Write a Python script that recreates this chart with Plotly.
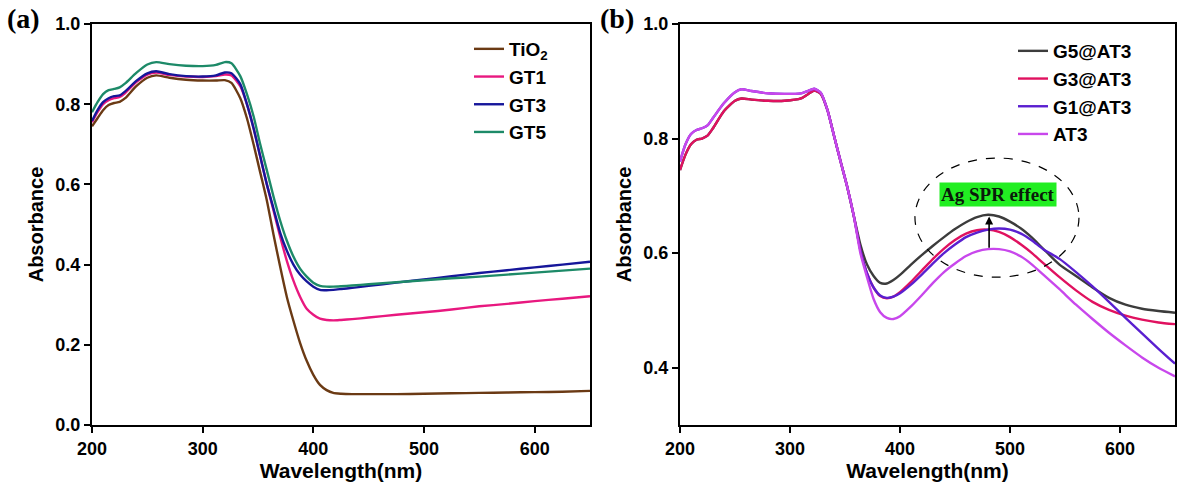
import plotly.graph_objects as go

# ---------------- Panel (a) data ----------------
wl_a = [200, 205, 210, 215, 220, 225, 230, 240, 250, 258, 270, 285, 300, 312, 320, 326,
        334, 340, 346, 352, 358, 364, 370, 376, 382, 388, 394, 400, 406, 412, 418, 425,
        435, 450, 475, 500, 525, 550, 575, 600, 625, 650]
tio2 = [0.745, 0.765, 0.785, 0.798, 0.803, 0.806, 0.815, 0.845, 0.866, 0.872, 0.866, 0.861, 0.859, 0.859, 0.860, 0.853,
        0.815, 0.765, 0.700, 0.630, 0.560, 0.475, 0.395, 0.320, 0.260, 0.205, 0.160, 0.125, 0.100, 0.087, 0.080, 0.078,
        0.077, 0.077, 0.077, 0.078, 0.079, 0.080, 0.081, 0.082, 0.083, 0.085]
gt1 = [0.755, 0.780, 0.800, 0.810, 0.815, 0.818, 0.828, 0.855, 0.874, 0.879, 0.873, 0.869, 0.868, 0.870, 0.874, 0.872,
       0.845, 0.800, 0.740, 0.670, 0.600, 0.535, 0.470, 0.410, 0.360, 0.320, 0.290, 0.275, 0.265, 0.262, 0.261, 0.262,
       0.264, 0.268, 0.275, 0.281, 0.288, 0.296, 0.302, 0.309, 0.315, 0.321]
gt3 = [0.758, 0.785, 0.805, 0.815, 0.820, 0.822, 0.832, 0.858, 0.877, 0.882, 0.875, 0.870, 0.869, 0.872, 0.879, 0.877,
       0.850, 0.800, 0.740, 0.670, 0.600, 0.540, 0.480, 0.435, 0.400, 0.375, 0.358, 0.345, 0.337, 0.336, 0.337, 0.339,
       0.342, 0.347, 0.355, 0.363, 0.371, 0.379, 0.386, 0.393, 0.400, 0.407]
gt5 = [0.780, 0.805, 0.825, 0.835, 0.838, 0.842, 0.852, 0.878, 0.899, 0.905, 0.900, 0.896, 0.895, 0.898, 0.905, 0.902,
       0.870, 0.825, 0.770, 0.700, 0.635, 0.570, 0.510, 0.460, 0.420, 0.390, 0.370, 0.355, 0.347, 0.345, 0.345, 0.346,
       0.348, 0.351, 0.356, 0.361, 0.366, 0.370, 0.375, 0.380, 0.385, 0.390]

# ---------------- Panel (b) data ----------------
wl_b = [200, 205, 210, 215, 220, 225, 230, 240, 250, 256, 265, 280, 295, 310, 316, 322, 328, 334, 340, 346,
        352, 358, 364, 370, 376, 382, 388, 394, 400, 410, 420, 430, 440, 450, 460, 470, 480, 490, 500, 510,
        520, 530, 545, 560, 575, 590, 605, 620, 635, 650]
g5 = [0.745, 0.772, 0.790, 0.798, 0.800, 0.805, 0.818, 0.848, 0.866, 0.870, 0.868, 0.866, 0.866, 0.870, 0.877, 0.884, 0.878, 0.850, 0.805, 0.760,
      0.716, 0.665, 0.615, 0.580, 0.560, 0.548, 0.547, 0.553, 0.562, 0.580, 0.597, 0.613, 0.628, 0.642, 0.654, 0.663, 0.667, 0.664, 0.655, 0.643,
      0.627, 0.608, 0.580, 0.560, 0.540, 0.522, 0.510, 0.503, 0.499, 0.496]
g3 = [0.745, 0.772, 0.790, 0.798, 0.800, 0.805, 0.818, 0.848, 0.866, 0.870, 0.868, 0.866, 0.866, 0.870, 0.877, 0.884, 0.878, 0.850, 0.805, 0.760,
      0.716, 0.665, 0.605, 0.565, 0.540, 0.525, 0.521, 0.524, 0.532, 0.550, 0.570, 0.590, 0.608, 0.623, 0.634, 0.640, 0.641, 0.637, 0.628, 0.615,
      0.600, 0.583, 0.558, 0.535, 0.515, 0.501, 0.491, 0.484, 0.479, 0.476]
g1 = [0.760, 0.790, 0.808, 0.815, 0.818, 0.823, 0.836, 0.862, 0.881, 0.886, 0.883, 0.879, 0.878, 0.879, 0.883, 0.887, 0.880, 0.850, 0.805, 0.760,
      0.716, 0.665, 0.605, 0.565, 0.540, 0.526, 0.522, 0.524, 0.530, 0.545, 0.563, 0.582, 0.600, 0.615, 0.628, 0.636, 0.641, 0.643, 0.641, 0.634,
      0.622, 0.607, 0.590, 0.567, 0.542, 0.515, 0.487, 0.460, 0.433, 0.407]
at3 = [0.760, 0.790, 0.808, 0.815, 0.818, 0.823, 0.836, 0.862, 0.881, 0.886, 0.883, 0.879, 0.878, 0.879, 0.883, 0.887, 0.880, 0.850, 0.805, 0.760,
       0.716, 0.665, 0.600, 0.558, 0.520, 0.497, 0.487, 0.485, 0.490, 0.507, 0.527, 0.548, 0.567, 0.582, 0.595, 0.603, 0.607, 0.607, 0.603, 0.594,
       0.580, 0.563, 0.537, 0.510, 0.485, 0.461, 0.439, 0.418, 0.400, 0.385]

names_a = ["TiO<sub>2</sub>", "GT1", "GT3", "GT5"]
colors_a = ["#6b3a14", "#e8187f", "#16169a", "#1d8a68"]
names_b = ["G5@AT3", "G3@AT3", "G1@AT3", "AT3"]
colors_b = ["#3c3c3c", "#e0115f", "#5a1fd0", "#c847ec"]

x_ticks = [200, 300, 400, 500, 600]
y_ticks_a = [0.0, 0.2, 0.4, 0.6, 0.8, 1.0]
y_ticks_b = [0.4, 0.6, 0.8, 1.0]

# annotation geometry (panel b, data coords)
ellipse = dict(x0=413.6, x1=562.7, y0=0.558, y1=0.766)
arrow = dict(x=481, y_head=0.664, y_tail=0.607)
label_pos = dict(x=489, y=0.702)

fig = go.Figure()
for nm, col, ys in zip(names_a, colors_a, [tio2, gt1, gt3, gt5]):
    fig.add_trace(go.Scatter(x=wl_a, y=ys, name=nm, mode="lines",
                             line=dict(color=col, width=2.4, shape="spline", smoothing=0.6),
                             xaxis="x", yaxis="y", legend="legend", legendgroup=nm))
for nm, col, ys in zip(names_b, colors_b, [g5, g3, g1, at3]):
    fig.add_trace(go.Scatter(x=wl_b, y=ys, name=nm, mode="lines",
                             line=dict(color=col, width=2.4, shape="spline", smoothing=0.6),
                             xaxis="x2", yaxis="y2", legend="legend2", legendgroup=nm))

W, H = 1180, 492
tickfont = dict(family="Liberation Sans", size=18, color="black", weight="bold")
titlefont = dict(family="Liberation Sans", size=21, color="black", weight="bold")
ytitlefont = dict(family="Liberation Sans", size=20, color="black", weight="bold")
ydom = [(H - 425) / H, (H - 24) / H]

axis_common = dict(showline=True, linewidth=2, linecolor="black", mirror=True,
                   ticks="outside", ticklen=6, tickwidth=2, tickcolor="black",
                   showgrid=False, zeroline=False, tickfont=tickfont, automargin=False)

legfont = dict(family="Liberation Sans", size=19, color="black", weight="bold")

fig.update_layout(
    width=W, height=H, margin=dict(l=0, r=0, t=0, b=0, autoexpand=False),
    paper_bgcolor="white", plot_bgcolor="white",
    xaxis=dict(domain=[92 / W, 590 / W], range=[200, 650], tickvals=x_ticks, anchor="y",
               title=dict(text="Wavelength(nm)", font=titlefont, standoff=4), **axis_common),
    yaxis=dict(domain=ydom, range=[0, 1.0], tickvals=y_ticks_a, tickformat=".1f", anchor="x",
               title=dict(text="Absorbance", font=ytitlefont, standoff=6), **axis_common),
    xaxis2=dict(domain=[680 / W, 1175 / W], range=[200, 650], tickvals=x_ticks, anchor="y2",
                title=dict(text="Wavelength(nm)", font=titlefont, standoff=4), **axis_common),
    yaxis2=dict(domain=ydom, range=[0.3, 1.0], tickvals=y_ticks_b, tickformat=".1f", anchor="x2",
                title=dict(text="Absorbance", font=ytitlefont, standoff=6), **axis_common),
    legend=dict(x=469 / W, y=1 - 30 / H, xanchor="left", yanchor="top", font=legfont,
                bgcolor="rgba(0,0,0,0)", tracegroupgap=0, itemwidth=30),
    legend2=dict(x=1013 / W, y=1 - 32 / H, xanchor="left", yanchor="top", font=legfont,
                 bgcolor="rgba(0,0,0,0)", tracegroupgap=0, itemwidth=30),
    showlegend=True,
)

fig.add_shape(type="circle", xref="x2", yref="y2", x0=ellipse["x0"], x1=ellipse["x1"],
              y0=ellipse["y0"], y1=ellipse["y1"], line=dict(color="black", width=1.2, dash="dash"))
fig.add_annotation(x=arrow["x"], y=arrow["y_head"], ax=arrow["x"], ay=arrow["y_tail"],
                   xref="x2", yref="y2", axref="x2", ayref="y2", showarrow=True,
                   arrowhead=2, arrowsize=1, arrowwidth=1.6, arrowcolor="black", text="")
fig.add_annotation(x=label_pos["x"], y=label_pos["y"], xref="x2", yref="y2", text="<b>Ag SPR effect</b>",
                   showarrow=False, bgcolor="#22ee22", borderpad=1,
                   font=dict(family="Liberation Serif", size=19, color="#0a1a0a"))

fig.add_annotation(x=5 / W, y=1 - 19 / H, xref="paper", yref="paper", xanchor="left", yanchor="middle",
                   text="<b>(a)</b>", showarrow=False,
                   font=dict(family="Liberation Serif", size=28, color="black"))
fig.add_annotation(x=598 / W, y=1 - 19 / H, xref="paper", yref="paper", xanchor="left", yanchor="middle",
                   text="<b>(b)</b>", showarrow=False,
                   font=dict(family="Liberation Serif", size=28, color="black"))

fig.write_html("out.html")
